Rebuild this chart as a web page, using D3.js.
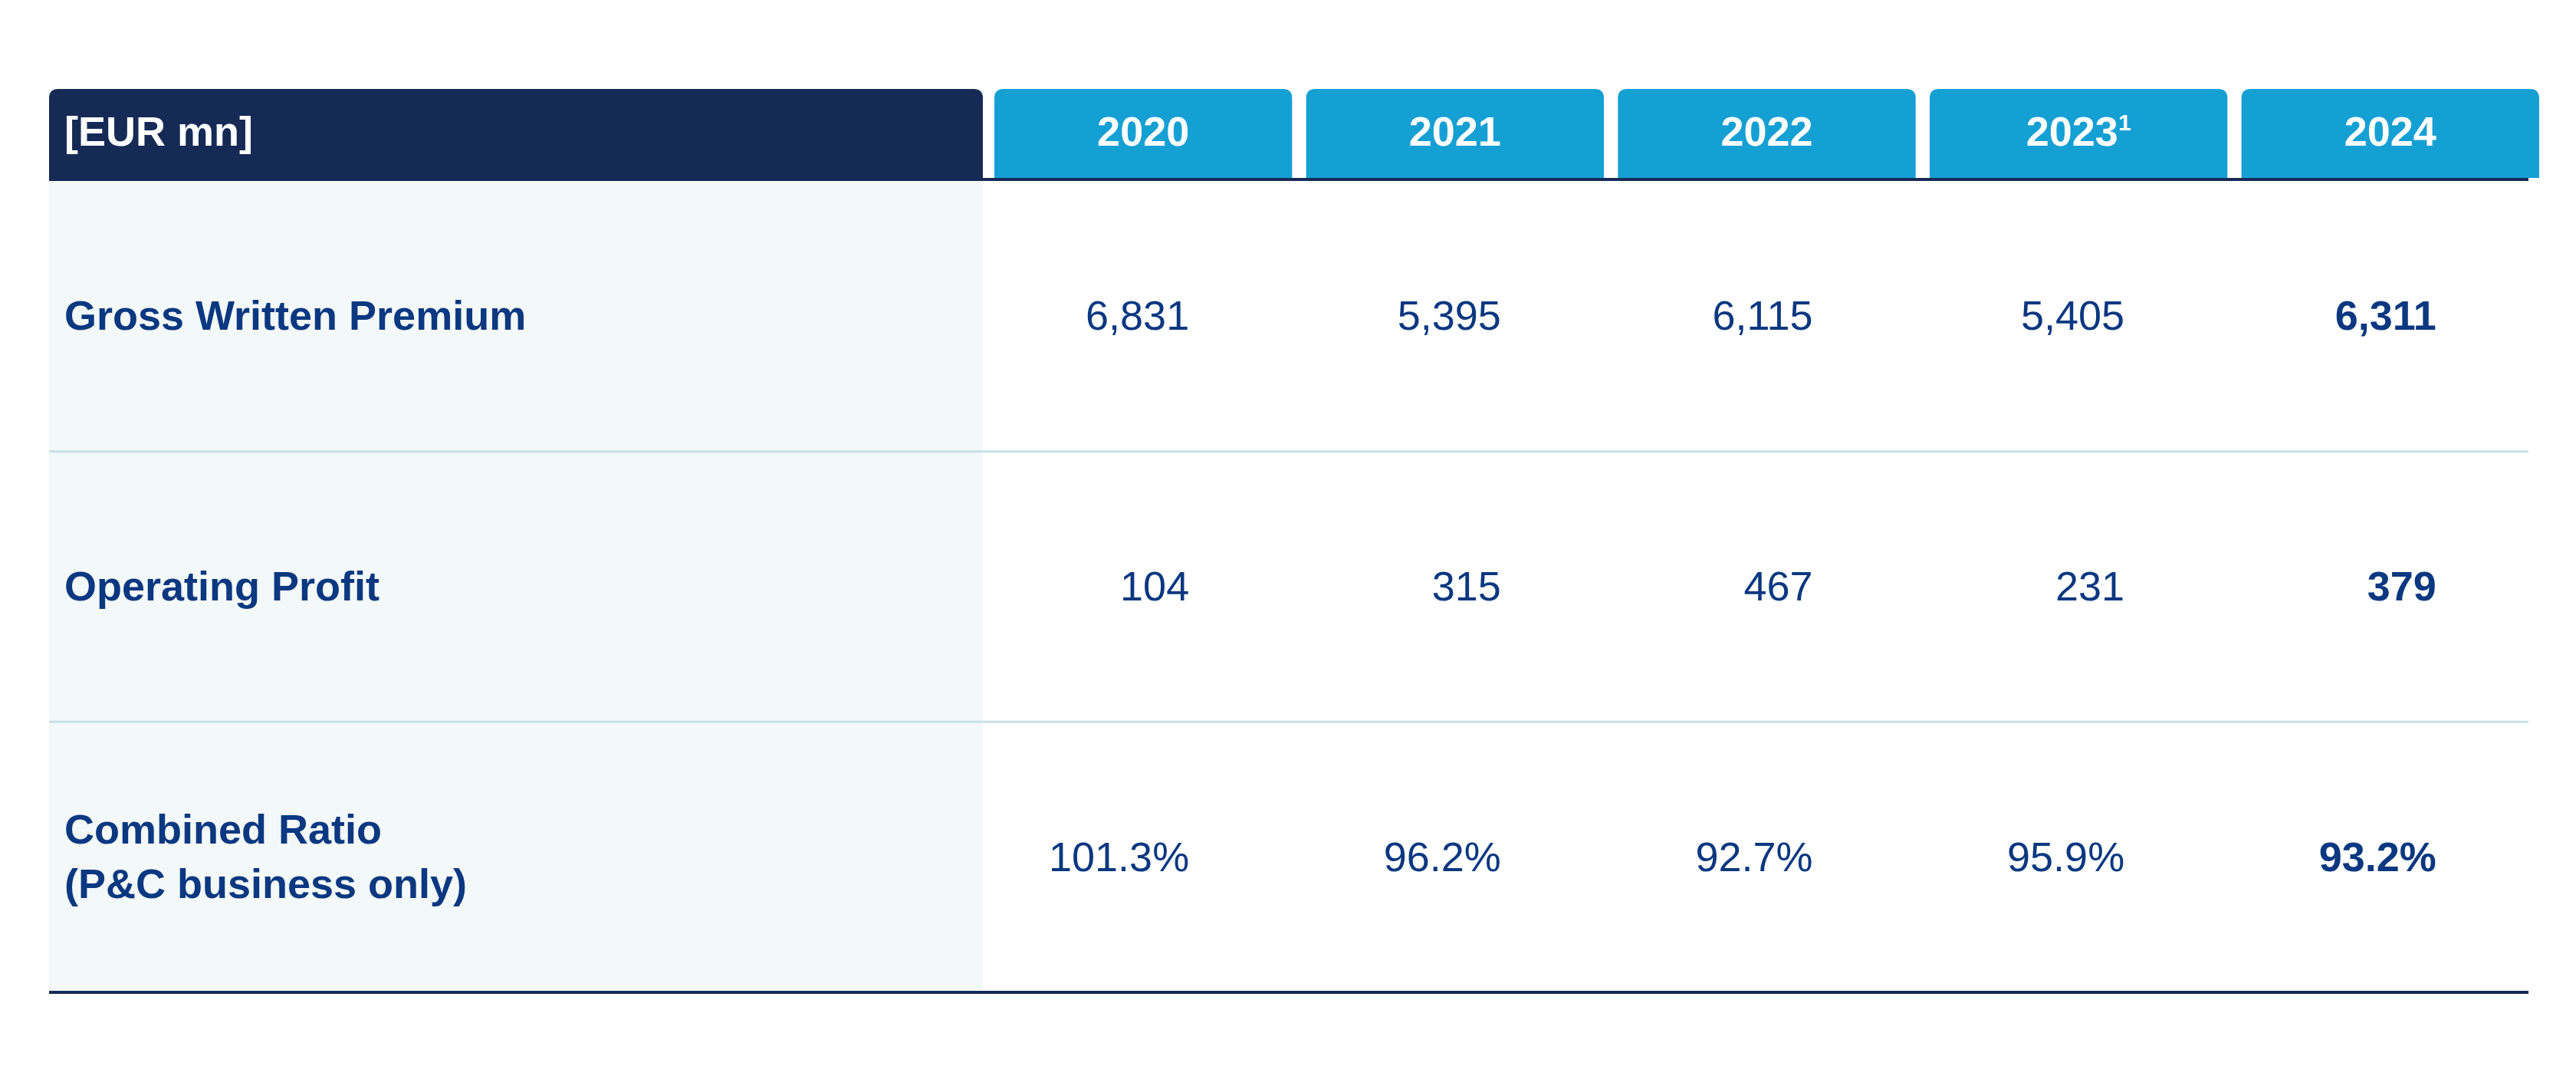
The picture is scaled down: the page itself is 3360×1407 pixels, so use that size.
<!DOCTYPE html>
<html>
<head>
<meta charset="utf-8">
<script src="https://cdn.jsdelivr.net/npm/d3@7"></script>
<style>
  body { margin: 0; background: #fff; }
  svg { display: block; font-family: "Liberation Sans", Arial, sans-serif; }
</style>
</head>
<body>
<div id="chart"></div>
<script>
// table data
var years = ["2020", "2021", "2022", "2023", "2024"];
var yearNotes = ["", "", "", "1", ""];
var rowLabels = [["Gross Written Premium"], ["Operating Profit"], ["Combined Ratio", "(P&C business only)"]];
var grossWrittenPremium = ["6,831", "5,395", "6,115", "5,405", "6,311"];
var operatingProfit = ["104", "315", "467", "231", "379"];
var combinedRatio = ["101.3%", "96.2%", "92.7%", "95.9%", "93.2%"];
var rows = [grossWrittenPremium, operatingProfit, combinedRatio];

var W = 3360, H = 1407;
var navy = "#152b55", blue = "#15a0d4", txt = "#0b3880";
var svg = d3.select("#chart").append("svg").attr("width", W).attr("height", H);

var left = 64, right = 3298, labelRight = 1282;
var headTop = 116, headBot = 232, rowTop = 236, rowBot = 1294;

var x = d3.scaleBand().domain(years).range([1297, right + 14]).paddingInner(0.045).paddingOuter(0);
var y = d3.scaleBand().domain(d3.range(rows.length)).range([rowTop, rowBot]);

// left panel background
svg.append("rect").attr("x", left).attr("y", rowTop).attr("width", labelRight - left)
  .attr("height", rowBot - rowTop).attr("fill", "#f3f8f8");

function tab(x0, w, fill) {
  var r = 12;
  svg.append("path").attr("fill", fill)
    .attr("d", "M" + x0 + "," + headBot + "V" + (headTop + r) + "Q" + x0 + "," + headTop + " " + (x0 + r) + "," + headTop +
      "H" + (x0 + w - r) + "Q" + (x0 + w) + "," + headTop + " " + (x0 + w) + "," + (headTop + r) + "V" + headBot + "Z");
}
tab(left, labelRight - left, navy);
svg.append("text").attr("x", 84).attr("y", 190).attr("fill", "#fff")
  .style("font-size", "54px").style("font-weight", "bold").text("[EUR mn]");

years.forEach(function (yr, i) {
  tab(x(yr), x.bandwidth(), blue);
  var t = svg.append("text").attr("x", x(yr) + x.bandwidth() / 2).attr("y", 190)
    .attr("text-anchor", "middle").attr("fill", "#fff")
    .style("font-size", "54px").style("font-weight", "bold").text(yr);
  if (yearNotes[i]) t.append("tspan").attr("dy", -20).style("font-size", "30px").text(yearNotes[i]);
});

// header rule
svg.append("line").attr("x1", left).attr("x2", right).attr("y1", 234).attr("y2", 234)
  .attr("stroke", navy).attr("stroke-width", 4);

// row separators
d3.range(1, rows.length).forEach(function (i) {
  svg.append("line").attr("x1", left).attr("x2", right).attr("y1", y(i)).attr("y2", y(i))
    .attr("stroke", "#c8e1e7").attr("stroke-width", 3);
});
svg.append("line").attr("x1", left).attr("x2", right).attr("y1", rowBot).attr("y2", rowBot)
  .attr("stroke", navy).attr("stroke-width", 4);

rows.forEach(function (vals, r) {
  var cy = y(r) + y.bandwidth() / 2 + 18;
  var lines = rowLabels[r];
  lines.forEach(function (l, k) {
    svg.append("text").attr("x", 84).attr("y", cy + (k - (lines.length - 1) / 2) * 71)
      .attr("fill", txt).style("font-size", "54px").style("font-weight", "bold").text(l);
  });
  vals.forEach(function (v, i) {
    svg.append("text").attr("x", x(years[i]) + x.bandwidth() / 2 + 60).attr("y", cy)
      .attr("text-anchor", "end").attr("fill", txt).style("font-size", "54px")
      .style("font-weight", i === vals.length - 1 ? "bold" : "normal").text(v);
  });
});
</script>
</body>
</html>
